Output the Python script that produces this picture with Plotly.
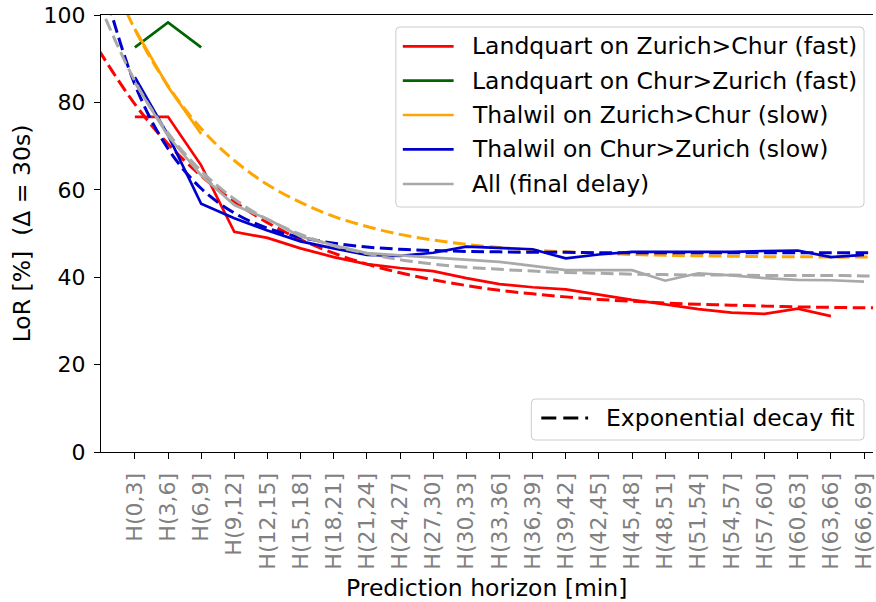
import plotly.graph_objects as go

# Prediction-horizon bins (x axis)
horizons = ["H(0,3]", "H(3,6]", "H(6,9]", "H(9,12]", "H(12,15]", "H(15,18]",
            "H(18,21]", "H(21,24]", "H(24,27]", "H(27,30]", "H(30,33]", "H(33,36]",
            "H(36,39]", "H(39,42]", "H(42,45]", "H(45,48]", "H(48,51]", "H(51,54]",
            "H(54,57]", "H(57,60]", "H(60,63]", "H(63,66]", "H(66,69]"]
bin_pos = list(range(len(horizons)))

# Measured LoR [%] per horizon bin
landquart_zc = [76.7, 76.7, 65.6, 50.4, 49.0, 46.6, 44.6, 43.0, 42.1, 41.4, 39.8,
                38.4, 37.7, 37.2, 36.0, 34.8, 33.8, 32.7, 31.9, 31.6, 32.8, 31.1]
landquart_cz = [92.6, 98.3, 92.6]
thalwil_zc = [96.8, 83.6, 72.8]
thalwil_cz = [85.8, 72.5, 56.8, 53.5, 50.7, 48.2, 46.6, 45.1, 44.9, 45.6, 47.0, 46.7,
              46.4, 44.3, 45.2, 45.8, 45.8, 45.8, 45.8, 46.0, 46.1, 44.6, 45.1]
all_final = [84.5, 72.3, 63.3, 56.5, 53.3, 49.3, 47.3, 45.5, 45.0, 44.5, 44.1, 43.5,
             42.6, 41.6, 41.6, 41.6, 39.2, 40.9, 40.4, 39.8, 39.4, 39.3, 39.0]

# Exponential decay fit curves, sampled across the axis span
fit_x = [-1.1, 0, 1, 2, 3, 4, 5, 6, 7, 8, 9, 10, 11, 12, 13, 14, 15, 16, 17, 18,
         19, 20, 21, 22, 22.5]
fit_landquart_zc = [92.1, 79.6, 70.5, 63.2, 57.3, 52.5, 48.6, 45.5, 43.0, 41.0, 39.4,
                    38.1, 37.0, 36.2, 35.5, 34.9, 34.5, 34.1, 33.8, 33.6, 33.4, 33.2,
                    33.1, 33.0, 33.0]
fit_thalwil_zc = [115.9, 96.7, 83.8, 74.0, 66.7, 61.2, 57.1, 53.9, 51.6, 49.8, 48.5,
                  47.5, 46.8, 46.2, 45.8, 45.5, 45.2, 45.0, 44.9, 44.8, 44.7, 44.7,
                  44.6, 44.6, 44.6]
fit_thalwil_cz = [110.9, 84.1, 69.4, 60.3, 54.7, 51.2, 49.1, 47.8, 46.9, 46.4, 46.1,
                  45.9, 45.8, 45.7, 45.7, 45.6, 45.6, 45.6, 45.6, 45.6, 45.6, 45.6,
                  45.6, 45.6, 45.6]
fit_all_final = [103.0, 84.9, 73.0, 64.3, 57.9, 53.2, 49.8, 47.2, 45.4, 44.0, 43.0,
                 42.3, 41.8, 41.4, 41.1, 40.9, 40.7, 40.6, 40.5, 40.5, 40.4, 40.4,
                 40.4, 40.3, 40.3]

series_names = ["Landquart on Zurich>Chur (fast)", "Landquart on Chur>Zurich (fast)",
                "Thalwil on Zurich>Chur (slow)", "Thalwil on Chur>Zurich (slow)",
                "All (final delay)"]
colors = ["#ff0000", "#006400", "#ffa500", "#0000cd", "#a9a9a9"]

FONT = "DejaVu Sans"
TEXT_SIZE = 23.5
TICK_SIZE = 22
W, H = 876, 602
L, R, T, B = 101, 876, 15, 452   # plot area in pixels

fig = go.Figure()

solid_sets = [landquart_zc, landquart_cz, thalwil_zc, thalwil_cz, all_final]
fit_sets = [fit_landquart_zc, None, fit_thalwil_zc, fit_thalwil_cz, fit_all_final]

for name, col, ys, fy in zip(series_names, colors, solid_sets, fit_sets):
    fig.add_trace(go.Scatter(x=bin_pos[:len(ys)], y=ys, mode="lines", name=name,
                             line=dict(color=col, width=2.7), showlegend=False))
    if fy is not None:
        fig.add_trace(go.Scatter(x=fit_x, y=fy, mode="lines", name=name + " fit",
                                 line=dict(color=col, width=3, dash="12.8px,5.5px",
                                           shape="spline", smoothing=1.0),
                                 showlegend=False))


def px(xp):
    return (xp - L) / (R - L)


def py(yp):
    return (B - yp) / (B - T)


def rounded_box(x0, y0, x1, y1, r=4):
    pts = [
        f"M {px(x0 + r)},{py(y0)}",
        f"L {px(x1 - r)},{py(y0)}",
        f"Q {px(x1)},{py(y0)} {px(x1)},{py(y0 + r)}",
        f"L {px(x1)},{py(y1 - r)}",
        f"Q {px(x1)},{py(y1)} {px(x1 - r)},{py(y1)}",
        f"L {px(x0 + r)},{py(y1)}",
        f"Q {px(x0)},{py(y1)} {px(x0)},{py(y1 - r)}",
        f"L {px(x0)},{py(y0 + r)}",
        f"Q {px(x0)},{py(y0)} {px(x0 + r)},{py(y0)}",
        "Z",
    ]
    return " ".join(pts)


shapes = []
annotations = []

# Series legend
shapes.append(dict(type="path", path=rounded_box(397, 27, 867, 207), xref="paper",
                   yref="paper", fillcolor="rgba(255,255,255,0.8)",
                   line=dict(color="#cccccc", width=1), layer="above"))
row_y = [46.3, 80.7, 115.0, 149.3, 184.0]
for name, col, ry in zip(series_names, colors, row_y):
    shapes.append(dict(type="line", xref="paper", yref="paper", x0=px(404), x1=px(455),
                       y0=py(ry), y1=py(ry), line=dict(color=col, width=2.7),
                       layer="above"))
    annotations.append(dict(text=name, x=px(471), y=py(ry), xref="paper", yref="paper",
                            xanchor="left", yanchor="middle", showarrow=False,
                            font=dict(family=FONT, size=TEXT_SIZE, color="#000000")))

# Fit legend
shapes.append(dict(type="path", path=rounded_box(533, 399, 867, 440), xref="paper",
                   yref="paper", fillcolor="rgba(255,255,255,0.8)",
                   line=dict(color="#cccccc", width=1), layer="above"))
shapes.append(dict(type="line", xref="paper", yref="paper", x0=px(543), x1=px(590),
                   y0=py(418), y1=py(418),
                   line=dict(color="#000000", width=3, dash="15px,7px"), layer="above"))
annotations.append(dict(text="Exponential decay fit", x=px(606), y=py(418),
                        xref="paper", yref="paper", xanchor="left", yanchor="middle",
                        showarrow=False,
                        font=dict(family=FONT, size=TEXT_SIZE, color="#000000")))

# Axis titles
annotations.append(dict(text="Prediction horizon [min]", x=px(488), y=py(588),
                        xref="paper", yref="paper", xanchor="center", yanchor="middle",
                        showarrow=False,
                        font=dict(family=FONT, size=TEXT_SIZE, color="#000000")))
annotations.append(dict(text="LoR [%] \u00a0(\u0394 = 30s)", x=px(22), y=py(233),
                        xref="paper", yref="paper", xanchor="center", yanchor="middle",
                        textangle=-90, showarrow=False,
                        font=dict(family=FONT, size=TEXT_SIZE, color="#000000")))

fig.update_layout(
    width=W, height=H,
    margin=dict(l=L, r=W - R, t=T, b=H - B, pad=0),
    paper_bgcolor="white", plot_bgcolor="white",
    font=dict(family=FONT, size=TICK_SIZE, color="#000000"),
    showlegend=False,
    shapes=shapes,
    annotations=annotations,
    xaxis=dict(range=[-1.022, 22.27], tickmode="array", tickvals=bin_pos,
               ticktext=horizons, tickangle=-90,
               tickfont=dict(family=FONT, size=TICK_SIZE, color="#808080"),
               ticks="outside", ticklen=6, tickwidth=1.2, tickcolor="#000000",
               showline=True, linecolor="#000000", linewidth=1.3, mirror=True,
               showgrid=False, zeroline=False, ticklabelstandoff=5,
               ticklabeloverflow="allow"),
    yaxis=dict(range=[0, 100], tickmode="array", tickvals=[0, 20, 40, 60, 80, 100],
               tickfont=dict(family=FONT, size=TICK_SIZE, color="#000000"),
               ticks="outside", ticklen=6, tickwidth=1.2, tickcolor="#000000",
               showline=True, linecolor="#000000", linewidth=1.3,
               showgrid=False, zeroline=False, ticklabelstandoff=4),
)

fig.write_html("out.html")
